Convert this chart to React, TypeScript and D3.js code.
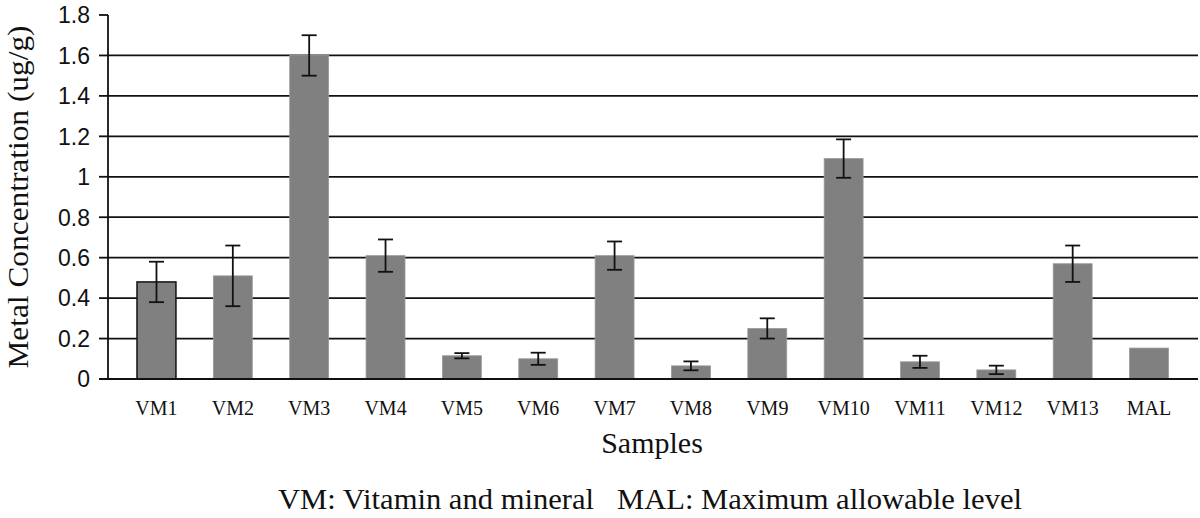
import React from "react";
import * as d3 from "d3";

const categories = ["VM1","VM2","VM3","VM4","VM5","VM6","VM7","VM8","VM9","VM10","VM11","VM12","VM13","MAL"];
const values = [0.48,0.51,1.6,0.61,0.115,0.1,0.61,0.065,0.25,1.09,0.085,0.045,0.57,0.153];
const errors = [0.1,0.15,0.1,0.08,0.013,0.03,0.07,0.022,0.05,0.095,0.03,0.021,0.09,0];
const yTicks = [0,0.2,0.4,0.6,0.8,1,1.2,1.4,1.6,1.8];

const W = 1200, H = 518;
const axisX = 108, plotRight = 1198, y0 = 379, yTop = 15;
const SERIF = "'Liberation Serif', 'Times New Roman', serif";
const SANS = "'Liberation Sans', Arial, sans-serif";

export default function App() {
  const y = d3.scaleLinear().domain([0, 1.8]).range([y0, yTop]);
  const x = d3.scaleBand().domain(categories).range([118.3, 1187.2]).paddingInner(0.49).paddingOuter(0.245);
  const bw = x.bandwidth();
  const fmt = (v: number) => String(v);
  return (
    <svg width={W} height={H} style={{ position: "absolute", left: 0, top: 0, background: "#fff" }}>
      {yTicks.filter(t => t > 0 && t < 1.8).map(t => (
        <line key={"g" + t} x1={axisX} x2={plotRight} y1={y(t)} y2={y(t)} stroke="#111" strokeWidth={1.8} />
      ))}
      {yTicks.map(t => (
        <g key={"t" + t}>
          <line x1={99} x2={axisX} y1={y(t)} y2={y(t)} stroke="#111" strokeWidth={1.8} />
          <text x={90} y={y(t)} dy="0.36em" textAnchor="end" style={{ fontFamily: SANS }} fontSize={23} fill="#111">{fmt(t)}</text>
        </g>
      ))}
      {categories.map((c, i) => {
        const cx = (x(c) as number) + bw / 2;
        return (
          <g key={c}>
            <rect x={x(c)} y={y(values[i])} width={bw} height={y0 - y(values[i])}
              fill="#808080" stroke={i === 0 ? "#111" : "#9a9a9a"} strokeWidth={i === 0 ? 1.5 : 0.8} />
            {errors[i] > 0 && (
              <g stroke="#111" strokeWidth={1.8}>
                <line x1={cx} x2={cx} y1={y(values[i] + errors[i])} y2={y(values[i] - errors[i])} />
                <line x1={cx - 7.5} x2={cx + 7.5} y1={y(values[i] + errors[i])} y2={y(values[i] + errors[i])} />
                <line x1={cx - 7.5} x2={cx + 7.5} y1={y(values[i] - errors[i])} y2={y(values[i] - errors[i])} />
              </g>
            )}
            <text x={cx} y={415} textAnchor="middle" style={{ fontFamily: SERIF }} fontSize={20} fill="#111">{c}</text>
          </g>
        );
      })}
      <line x1={axisX} x2={axisX} y1={yTop} y2={y0} stroke="#111" strokeWidth={1.8} />
      <line x1={99} x2={plotRight} y1={y0} y2={y0} stroke="#111" strokeWidth={1.8} />
      <text transform={`translate(28,197) rotate(-90)`} textAnchor="middle" style={{ fontFamily: SERIF }} fontSize={30} fill="#111" textLength={343} lengthAdjust="spacingAndGlyphs">Metal Concentration (ug/g)</text>
      <text x={652} y={453} textAnchor="middle" style={{ fontFamily: SERIF }} fontSize={30} fill="#111">Samples</text>
      <text x={650} y={509} textAnchor="middle" style={{ fontFamily: SERIF, whiteSpace: "pre" }} fontSize={30} fill="#111" textLength={744} lengthAdjust="spacingAndGlyphs">VM: Vitamin and mineral   MAL: Maximum allowable level</text>
    </svg>
  );
}
